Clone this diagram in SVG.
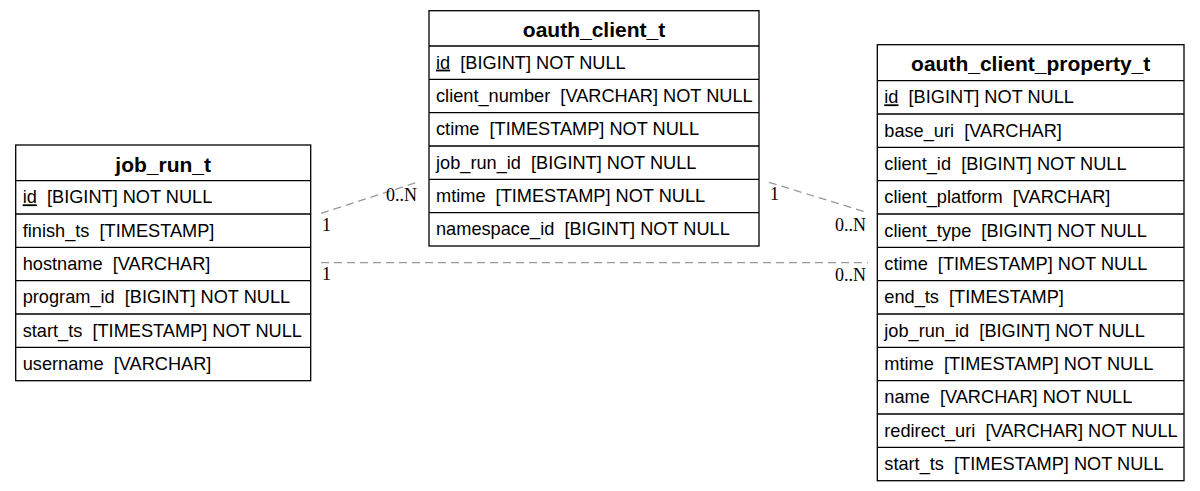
<svg xmlns="http://www.w3.org/2000/svg" width="1200" height="491" viewBox="0 0 1200 491">
<style>
.box{fill:#fff;stroke:#000;stroke-width:1.3}
.sep{stroke:#000;stroke-width:1.3}
.hdr{font-family:"Liberation Sans",Arial,sans-serif;font-size:21px;font-weight:bold;fill:#000;text-anchor:middle}
.row{font-family:"Liberation Sans",Arial,sans-serif;font-size:18.2px;fill:#000}
.pk{text-decoration:underline}
.edge{fill:none;stroke:#999;stroke-width:1.3;stroke-dasharray:8,5}
.lbl{font-family:"Liberation Serif","Times New Roman",serif;font-size:18px;fill:#000}
</style>
<rect width="1200" height="491" fill="#fff"/>
<g id="connectors">
<path class="edge" d="M321,213.3 L418,182"/>
<path class="edge" d="M321,262.7 L868,262.7"/>
<path class="edge" d="M769,182.3 L868,212.7"/>
<text class="lbl" x="322" y="231">1</text>
<text class="lbl" x="417" y="201" text-anchor="end">0..N</text>
<text class="lbl" x="322" y="280">1</text>
<text class="lbl" x="866" y="281" text-anchor="end">0..N</text>
<text class="lbl" x="770" y="200">1</text>
<text class="lbl" x="866" y="231" text-anchor="end">0..N</text>
</g>
<g id="job_run_t">
<rect class="box" x="15.7" y="145" width="295" height="235.7"/>
<path class="sep" d="M15.7,180.7H310.7M15.7,214H310.7M15.7,247.3H310.7M15.7,280.7H310.7M15.7,314H310.7M15.7,347.3H310.7"/>
<text class="hdr" x="163.2" y="171.5">job_run_t</text>
<text class="row" x="22.7" y="203.3" xml:space="preserve"><tspan class="pk">id</tspan>  [BIGINT] NOT NULL</text>
<text class="row" x="22.7" y="236.6" xml:space="preserve">finish_ts  [TIMESTAMP]</text>
<text class="row" x="22.7" y="270" xml:space="preserve">hostname  [VARCHAR]</text>
<text class="row" x="22.7" y="303.3" xml:space="preserve">program_id  [BIGINT] NOT NULL</text>
<text class="row" x="22.7" y="336.6" xml:space="preserve">start_ts  [TIMESTAMP] NOT NULL</text>
<text class="row" x="22.7" y="370" xml:space="preserve">username  [VARCHAR]</text>
</g>
<g id="oauth_client_t">
<rect class="box" x="429" y="10.7" width="330" height="235.3"/>
<path class="sep" d="M429,46H759M429,79.3H759M429,112.7H759M429,146H759M429,179.3H759M429,212.7H759"/>
<text class="hdr" x="594" y="37.2">oauth_client_t</text>
<text class="row" x="436" y="68.6" xml:space="preserve"><tspan class="pk">id</tspan>  [BIGINT] NOT NULL</text>
<text class="row" x="436" y="102" xml:space="preserve">client_number  [VARCHAR] NOT NULL</text>
<text class="row" x="436" y="135.3" xml:space="preserve">ctime  [TIMESTAMP] NOT NULL</text>
<text class="row" x="436" y="168.6" xml:space="preserve">job_run_id  [BIGINT] NOT NULL</text>
<text class="row" x="436" y="202" xml:space="preserve">mtime  [TIMESTAMP] NOT NULL</text>
<text class="row" x="436" y="235.3" xml:space="preserve">namespace_id  [BIGINT] NOT NULL</text>
</g>
<g id="oauth_client_property_t">
<rect class="box" x="877.3" y="44.7" width="306.7" height="436"/>
<path class="sep" d="M877.3,80.7H1184M877.3,114H1184M877.3,147.3H1184M877.3,180.7H1184M877.3,214H1184M877.3,247.3H1184M877.3,280.7H1184M877.3,314H1184M877.3,347.3H1184M877.3,380.7H1184M877.3,414H1184M877.3,447.3H1184"/>
<text class="hdr" x="1030.7" y="71.2">oauth_client_property_t</text>
<text class="row" x="884.3" y="103.3" xml:space="preserve"><tspan class="pk">id</tspan>  [BIGINT] NOT NULL</text>
<text class="row" x="884.3" y="136.6" xml:space="preserve">base_uri  [VARCHAR]</text>
<text class="row" x="884.3" y="170" xml:space="preserve">client_id  [BIGINT] NOT NULL</text>
<text class="row" x="884.3" y="203.3" xml:space="preserve">client_platform  [VARCHAR]</text>
<text class="row" x="884.3" y="236.6" xml:space="preserve">client_type  [BIGINT] NOT NULL</text>
<text class="row" x="884.3" y="270" xml:space="preserve">ctime  [TIMESTAMP] NOT NULL</text>
<text class="row" x="884.3" y="303.3" xml:space="preserve">end_ts  [TIMESTAMP]</text>
<text class="row" x="884.3" y="336.6" xml:space="preserve">job_run_id  [BIGINT] NOT NULL</text>
<text class="row" x="884.3" y="370" xml:space="preserve">mtime  [TIMESTAMP] NOT NULL</text>
<text class="row" x="884.3" y="403.3" xml:space="preserve">name  [VARCHAR] NOT NULL</text>
<text class="row" x="884.3" y="436.6" xml:space="preserve">redirect_uri  [VARCHAR] NOT NULL</text>
<text class="row" x="884.3" y="470" xml:space="preserve">start_ts  [TIMESTAMP] NOT NULL</text>
</g>
</svg>
